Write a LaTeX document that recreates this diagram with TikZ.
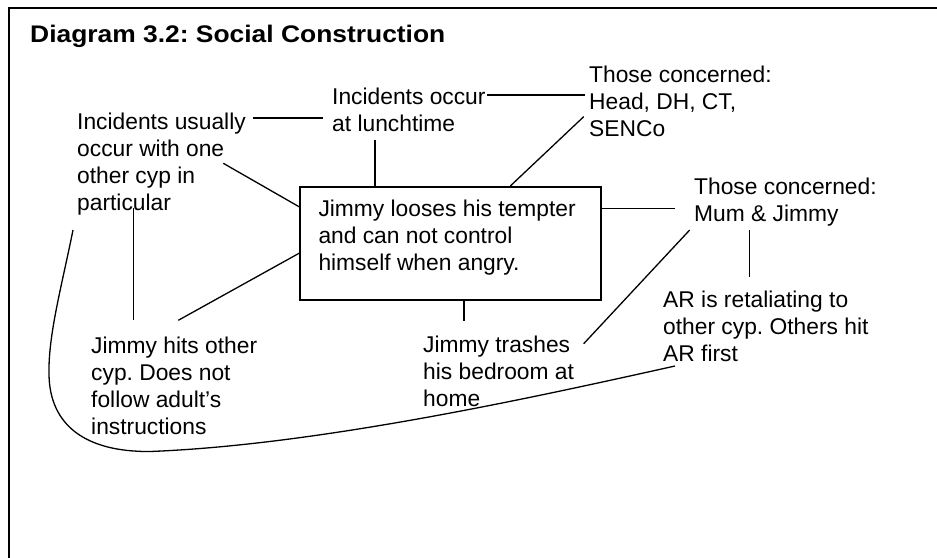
\documentclass[tikz,border=0pt]{standalone}
\usepackage{fontspec}
\setmainfont{Liberation Sans}
\newfontfamily\titlefont{Liberation Sans}[FakeStretch=1.1]
\frenchspacing
\begin{document}
\frenchspacing
\begin{tikzpicture}[x=1pt,y=-1pt,
  lbl/.style={anchor=base west, inner sep=0pt, font=\fontsize{22.8}{27}\selectfont},
  conn/.style={line width=1.3pt},
  frameline/.style={line width=1.8pt},
  mainbox/.style={draw, line width=1.7pt, inner sep=0pt, anchor=north west}
]
\useasboundingbox (0,0) rectangle (937,557);
% frame
\draw[frameline] (9,560) -- (9,8) -- (940,8);
% title
\node[anchor=base west, inner sep=0pt, font=\titlefont\bfseries\fontsize{24}{28}\selectfont] (title) at (30,42.5) {Diagram 3.2: Social Construction};
% text nodes
\node[lbl] (usual) at (77,129) {\begin{tabular}[t]{@{}l@{}}Incidents usually\\occur with one\\other cyp in\\particular\end{tabular}};
\node[lbl] (lunch) at (332,104.5) {\begin{tabular}[t]{@{}l@{}}Incidents occur\\at lunchtime\end{tabular}};
\node[lbl] (head) at (589,82) {\begin{tabular}[t]{@{}l@{}}Those concerned:\\Head, DH, CT,\\SENCo\end{tabular}};
\node[lbl] (mum) at (694,194.5) {\begin{tabular}[t]{@{}l@{}}Those concerned:\\Mum \& Jimmy\end{tabular}};
\node[mainbox, minimum width=301pt, minimum height=113pt] (box) at (299,186) {};
\node[lbl] (boxtext) at (318.3,216.7) {\begin{tabular}[t]{@{}l@{}}Jimmy looses his tempter\\and can not control\\himself when angry.\end{tabular}};
\node[lbl] (hits) at (91,353) {\begin{tabular}[t]{@{}l@{}}Jimmy hits other\\cyp. Does not\\follow adult’s\\instructions\end{tabular}};
\node[lbl] (trash) at (423,352) {\begin{tabular}[t]{@{}l@{}}Jimmy trashes\\his bedroom at\\home\end{tabular}};
\node[lbl] (ar) at (663,307) {\begin{tabular}[t]{@{}l@{}}AR is retaliating to\\other cyp. Others hit\\AR first\end{tabular}};
% connector end points
\coordinate (usualE) at (253,118);
\coordinate (lunchW) at (323,118);
\coordinate (lunchE) at (487,95);
\coordinate (headW) at (585,95);
\coordinate (lunchS) at (375,140);
\coordinate (headSW) at (583.7,116.7);
\coordinate (boxN2) at (510.3,186);
\coordinate (usualSE) at (223.3,163.3);
\coordinate (boxW1) at (299,206.7);
\coordinate (usualS) at (133.3,208);
\coordinate (hitsN1) at (133.3,320.3);
\coordinate (boxW2) at (299,253.3);
\coordinate (hitsN2) at (178.3,320.3);
\coordinate (trashN) at (464,321);
\coordinate (boxE) at (600,208.3);
\coordinate (mumW) at (675.3,208.3);
\coordinate (mumSW) at (689.7,230);
\coordinate (trashNE) at (583.7,343.7);
\coordinate (mumS) at (749.7,230);
\coordinate (arN) at (749.7,277);
\coordinate (loopA) at (73,230);
\coordinate (loopB) at (675,366);
% connectors
\draw[conn] (usualE) -- (lunchW);
\draw[conn] (lunchE) -- (headW);
\draw[conn] (lunchS) -- (lunchS |- box.north);
\draw[conn] (headSW) -- (boxN2);
\draw[conn] (usualSE) -- (boxW1);
\draw[conn] (usualS) -- (hitsN1);
\draw[conn] (boxW2) -- (hitsN2);
\draw[conn] (trashN |- box.south) -- (trashN);
\draw[conn] (boxE) -- (mumW);
\draw[conn] (mumSW) -- (trashNE);
\draw[conn] (mumS) -- (arN);
\draw[conn] (loopA) .. controls (62,285) and (48,335) .. (49,375)
  .. controls (50,425) and (85,452) .. (150,451.5)
  .. controls (320,445) and (540,396) .. (loopB);
\end{tikzpicture}
\end{document}
